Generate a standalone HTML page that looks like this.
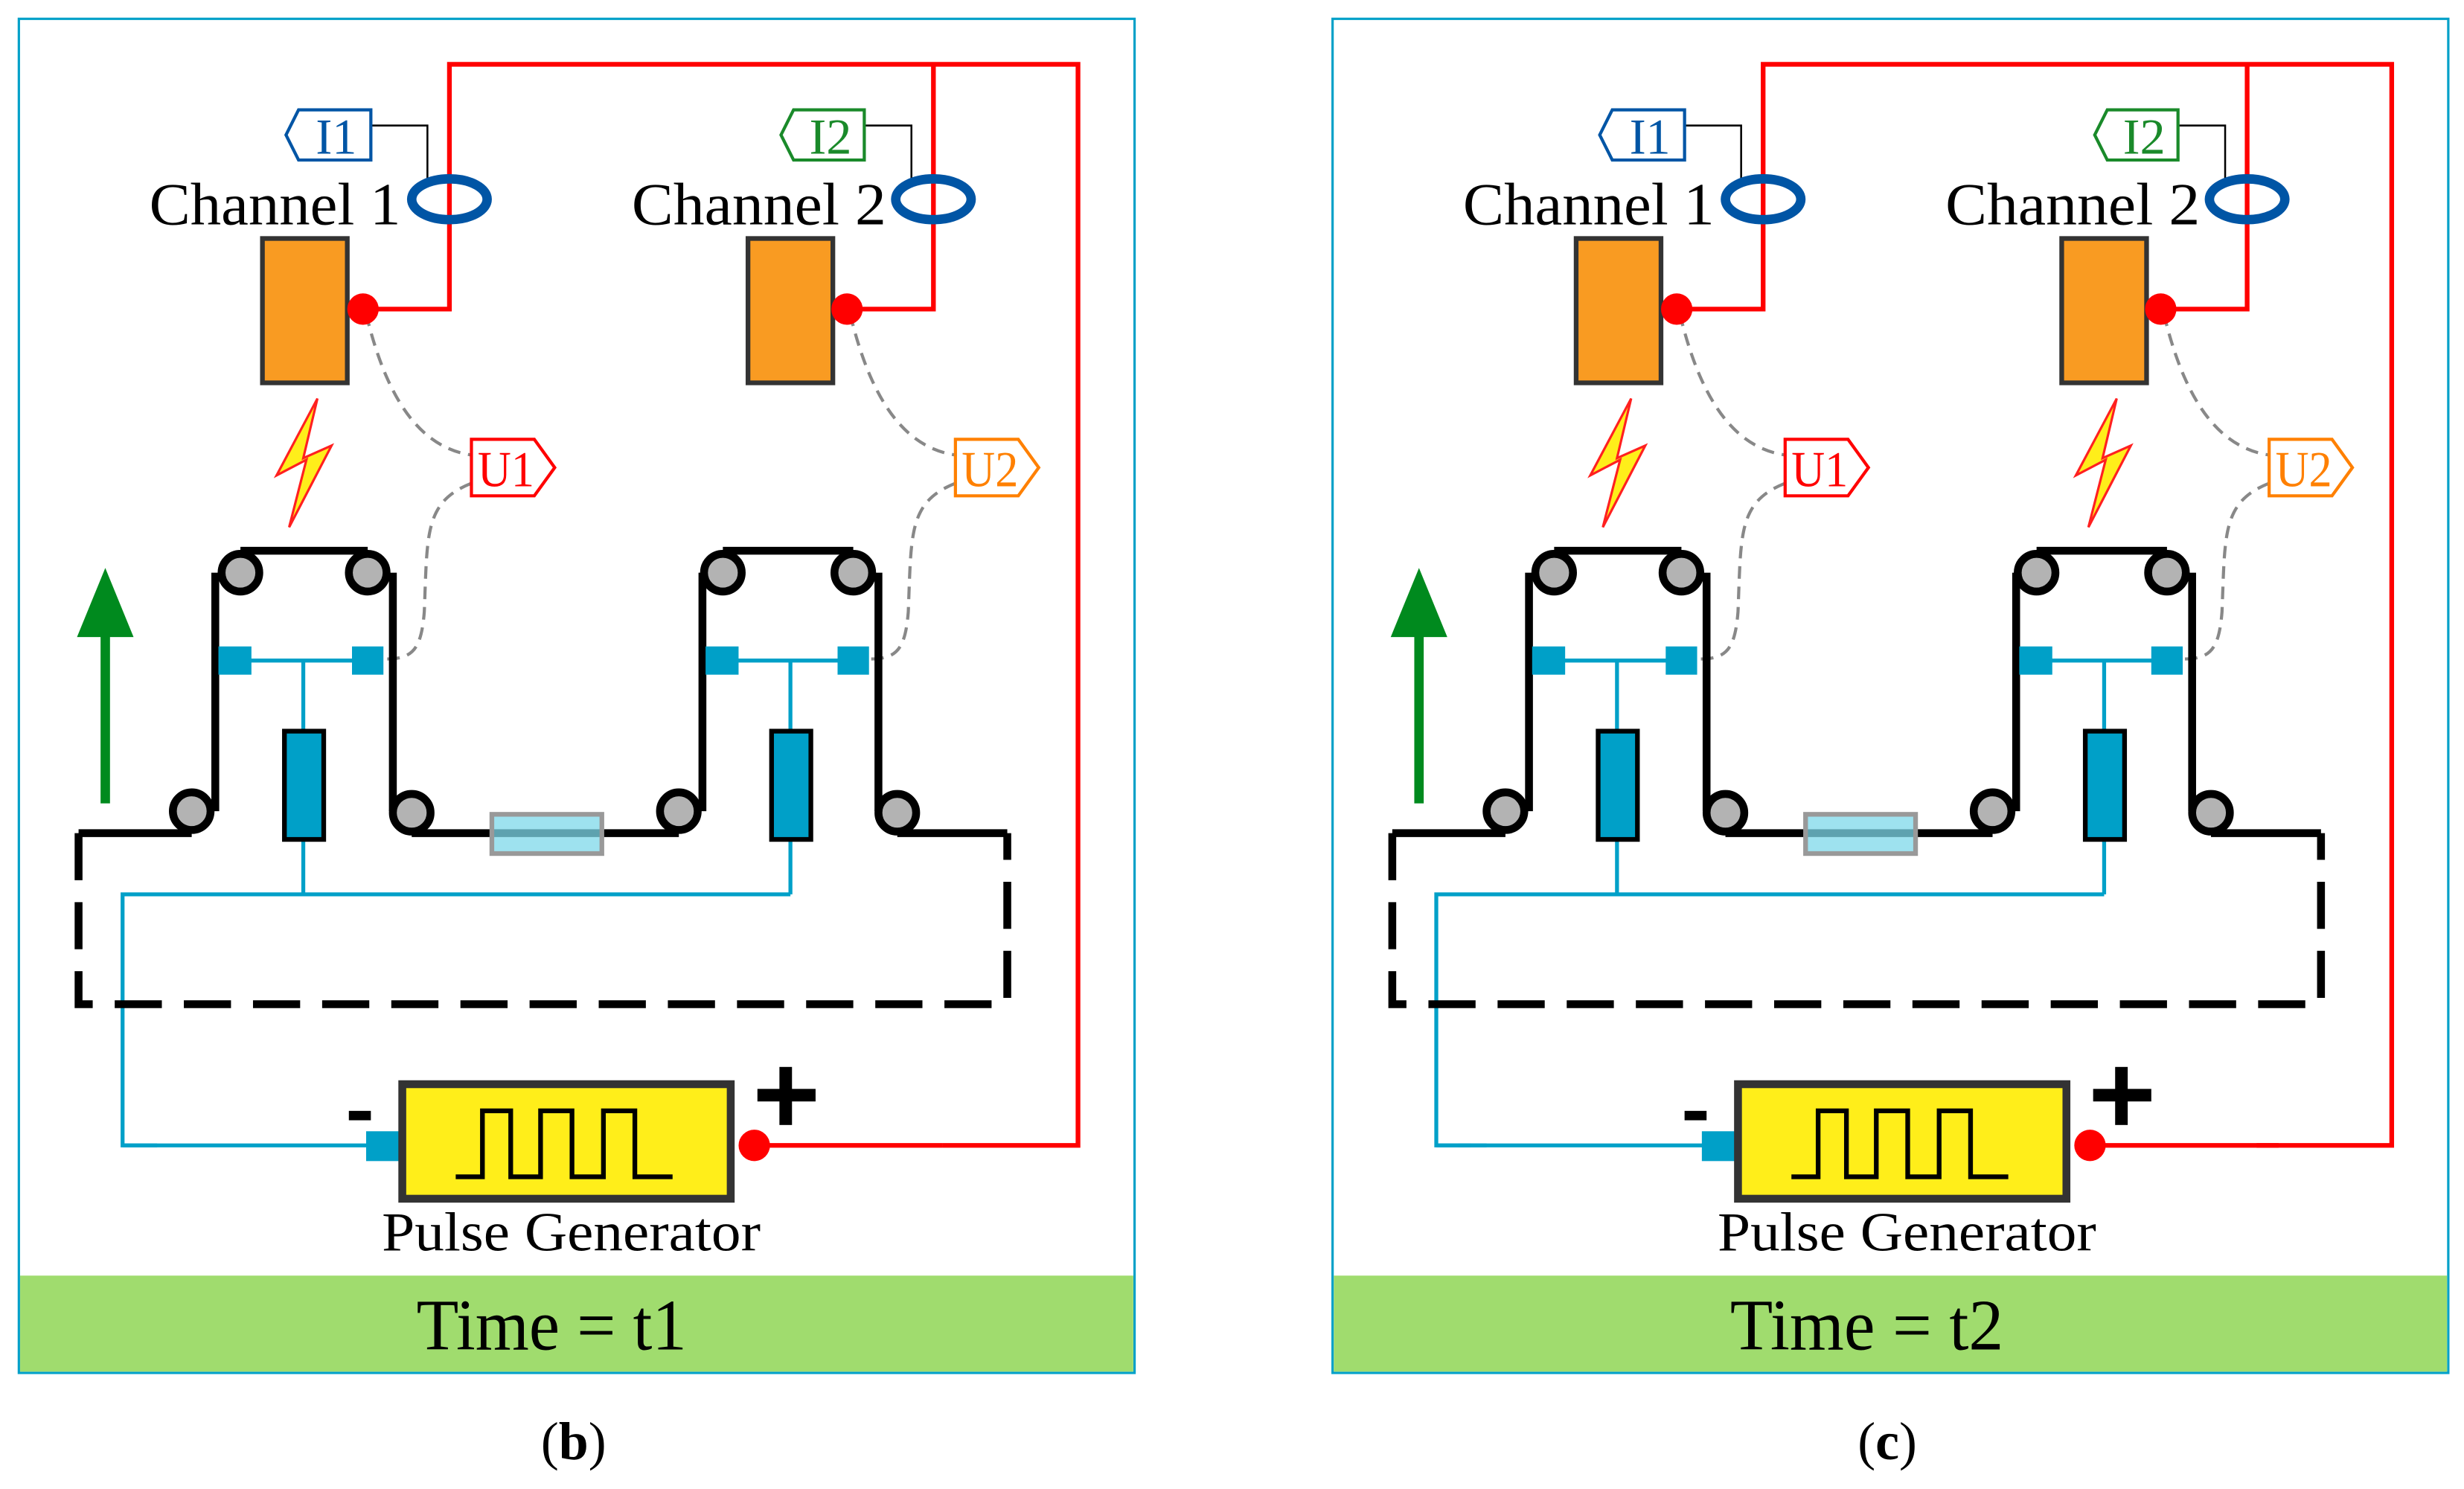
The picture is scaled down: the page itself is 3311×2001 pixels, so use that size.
<!DOCTYPE html>
<html><head><meta charset="utf-8"><style>html,body{margin:0;padding:0;background:#fff}svg{display:block}</style></head>
<body>
<svg width="3311" height="2001" viewBox="0 0 1568 949" preserveAspectRatio="none" xmlns="http://www.w3.org/2000/svg" font-family="Liberation Serif, serif">
<defs>
<g id="bolt"><polygon points="202,254 176,303 195,293 184,336 211,284 193,292" fill="#ffee1a" stroke="#ff2020" stroke-width="1.5"/></g>
<g id="gen">
  <polyline points="243,730 78,730" fill="none" stroke="#00a0c8" stroke-width="2.5"/>
  <line x1="480" y1="730" x2="600" y2="730" stroke="#ff0000" stroke-width="3"/>
  <rect x="233" y="721" width="21" height="19" fill="#00a0c8"/>
  <rect x="256" y="691" width="209" height="73" fill="#ffee1a" stroke="#333" stroke-width="5"/>
  <polyline points="290,750 307,750 307,708 325,708 325,750 344,750 344,708 364,708 364,750 384,750 384,708 404,708 404,750 428,750" fill="none" stroke="#000" stroke-width="3"/>
  <circle cx="480" cy="730" r="10" fill="#ff0000"/>
  <rect x="222" y="708" width="14" height="6" fill="#000"/>
  <rect x="482" y="694" width="37" height="8" fill="#000"/><rect x="496" y="680" width="8" height="37" fill="#000"/>
  <text x="243" y="797" font-size="35" textLength="241" lengthAdjust="spacingAndGlyphs">Pulse Generator</text>
</g>
<g id="panel">
  <rect x="12" y="12" width="710" height="863" fill="#fff" stroke="#00a0c8" stroke-width="1.5"/>
  <rect x="12.8" y="813" width="708.4" height="61.2" fill="#a0dc6e"/>
  <g fill="none" stroke="#ff0000" stroke-width="3">
    <polyline points="231,197 286,197 286,41 686,41 686,730 600,730"/>
    <polyline points="594,41 594,197 539,197"/>
  </g>
  <g fill="none" stroke="#000" stroke-width="1.2">
    <polyline points="236,80 272,80 272,114"/>
    <polyline points="550,80 580,80 580,114"/>
  </g>
  <ellipse cx="286" cy="127" rx="24" ry="13" fill="none" stroke="#0055a5" stroke-width="6"/>
  <ellipse cx="594" cy="127" rx="24" ry="13" fill="none" stroke="#0055a5" stroke-width="6"/>
  <polygon points="182,86 190,70 236,70 236,102 190,102" fill="#fff" stroke="#0055a5" stroke-width="2"/>
  <text x="201" y="98" font-size="32" fill="#0055a5" textLength="26" lengthAdjust="spacingAndGlyphs">I1</text>
  <polygon points="497,86 505,70 550,70 550,102 505,102" fill="#fff" stroke="#1a8a2a" stroke-width="2"/>
  <text x="515" y="98" font-size="32" fill="#1a8a2a" textLength="27" lengthAdjust="spacingAndGlyphs">I2</text>
  <text x="95" y="143" font-size="38" textLength="160" lengthAdjust="spacingAndGlyphs">Channel 1</text>
  <text x="402" y="143" font-size="38" textLength="162" lengthAdjust="spacingAndGlyphs">Channel 2</text>
  <rect x="167" y="152" width="54" height="92" fill="#f99b22" stroke="#333" stroke-width="3"/>
  <rect x="476" y="152" width="54" height="92" fill="#f99b22" stroke="#333" stroke-width="3"/>
  <g fill="none" stroke="#888" stroke-width="2" stroke-dasharray="8,5">
    <path d="M233,200 C245,250 265,285 300,290"/>
    <path d="M300,308 C270,320 272,340 270,390 C268,415 262,420 245,420"/>
    <path d="M541,200 C553,250 573,285 608,290"/>
    <path d="M608,308 C578,320 580,340 578,390 C576,415 570,420 553,420"/>
  </g>
  <polygon points="300,280 340,280 353,298 340,316 300,316" fill="#fff" stroke="#ff0000" stroke-width="2"/>
  <text x="304" y="310" font-size="32" fill="#ff0000" textLength="36" lengthAdjust="spacingAndGlyphs">U1</text>
  <polygon points="608,280 648,280 661,298 648,316 608,316" fill="#fff" stroke="#ff8000" stroke-width="2"/>
  <text x="612" y="310" font-size="32" fill="#ff8000" textLength="36" lengthAdjust="spacingAndGlyphs">U2</text>
  <circle cx="231" cy="197" r="10" fill="#ff0000"/>
  <circle cx="539" cy="197" r="10" fill="#ff0000"/>
  <use href="#bolt"/>
  <line x1="67" y1="512" x2="67" y2="400" stroke="#008a1e" stroke-width="6"/>
  <polygon points="49,406 85,406 67,362" fill="#008a1e"/>
  <g fill="none" stroke="#00a0c8" stroke-width="2.5">
    <polyline points="150,421 234,421"/><line x1="193" y1="421" x2="193" y2="570"/>
    <polyline points="460,421 543,421"/><line x1="503" y1="421" x2="503" y2="570"/>
    <polyline points="503,570 78,570 78,730 100,730"/>
  </g>
  <polyline points="50,531 50,640 641,640 641,531" fill="none" stroke="#000" stroke-width="5" stroke-dasharray="30,14"/>
  <path d="M50,531 L122,531 M137,517 L137,365 M153,351 L234,351 M250,365 L250,517 M262,531 L432,531 M447,517 L447,365 M460,351 L543,351 M559,365 L559,517 M571,531 L641,531" fill="none" stroke="#000" stroke-width="5"/>
  <g fill="#b3b3b3" stroke="#000" stroke-width="5">
    <circle cx="122" cy="517" r="12"/><circle cx="153" cy="365" r="12"/><circle cx="234" cy="365" r="12"/><circle cx="262" cy="518" r="12"/>
    <circle cx="432" cy="517" r="12"/><circle cx="460" cy="365" r="12"/><circle cx="543" cy="365" r="12"/><circle cx="571" cy="518" r="12"/>
  </g>
  <rect x="313" y="519" width="70" height="25" fill="#7dd8ea" fill-opacity="0.75" stroke="#999" stroke-width="3"/>
  <g fill="#00a0c8">
    <rect x="139" y="412" width="21" height="18"/><rect x="224" y="412" width="20" height="18"/>
    <rect x="449" y="412" width="21" height="18"/><rect x="533" y="412" width="20" height="18"/>
  </g>
  <rect x="181" y="466" width="25" height="69" fill="#00a0c8" stroke="#000" stroke-width="3"/>
  <rect x="491" y="466" width="25" height="69" fill="#00a0c8" stroke="#000" stroke-width="3"/>
</g>
</defs>
<use href="#panel"/>
<use href="#gen"/>
<text x="265" y="860" font-size="46" textLength="172" lengthAdjust="spacingAndGlyphs">Time = t1</text>
<text x="365" y="930" font-size="34" text-anchor="middle">(<tspan font-weight="bold">b</tspan>)</text>
<g transform="translate(836,0)">
  <use href="#panel"/>
  <line x1="78" y1="730" x2="110" y2="730" stroke="#00a0c8" stroke-width="2.5"/>
  <use href="#gen" transform="translate(14,0)"/>
  <use href="#bolt" transform="translate(309,0)"/>
  <text x="265" y="860" font-size="46" textLength="174" lengthAdjust="spacingAndGlyphs">Time = t2</text>
  <text x="365" y="930" font-size="34" text-anchor="middle">(<tspan font-weight="bold">c</tspan>)</text>
</g>
</svg>
</body></html>
